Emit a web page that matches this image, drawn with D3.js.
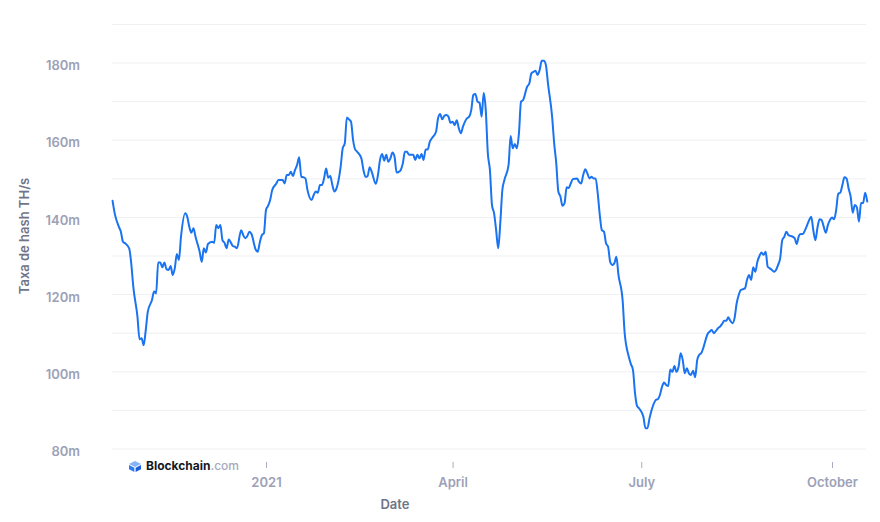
<!DOCTYPE html>
<html>
<head>
<meta charset="utf-8">
<script src="https://cdn.jsdelivr.net/npm/d3@7"></script>
<style>
  html, body { margin: 0; padding: 0; background: #ffffff; }
  svg { display: block; font-family: Inter, "Noto Sans", sans-serif; }
</style>
</head>
<body>
<svg id="chart" width="880" height="522"></svg>
<script>
// Day offsets from 2021-01-01 (UTC) and hash rate values in millions of TH/s
const dayOffsets = [
-74,-73,-71,-70,-69,-68,-66,-65,-64,-62,-61,-60,-59,-58,-57,-55,-54,-53,-52,-51,-50,-49,-48,-47,-46,-45,-44,-43,-42,-41,
-39,-38,-37,-36,-35,-34,-32,-31,-30,-29,-28,-26,-25,-24,-23,-22,-21,-20,-19,-18,-16,-15,-14,-12,-11,-10,-9,-8,-7,-5,
-4,-3,-2,-1,0,1,2,3,5,6,8,9,10,11,12,13,14,15,16,17,18,19,20,22,23,24,25,26,27,28,
29,30,31,32,33,34,36,37,38,39,40,41,42,43,44,46,47,48,49,50,51,53,54,55,56,57,58,59,60,61,
62,63,64,65,66,67,68,69,70,71,72,73,74,75,76,77,78,79,80,82,83,84,85,86,87,88,89,90,91,92,
93,94,95,97,98,99,100,101,102,103,104,105,106,107,108,109,110,111,112,113,114,115,117,118,119,120,121,122,123,124,
126,127,128,129,130,131,132,133,134,135,136,138,139,140,141,142,143,144,145,146,147,148,150,151,152,153,154,155,156,157,
158,159,160,161,162,163,164,165,166,167,168,169,170,172,173,175,176,177,178,179,180,182,183,184,185,186,187,188,189,190,
191,192,193,194,195,196,197,198,199,200,201,202,203,204,205,206,207,208,209,210,211,212,213,214,215,216,217,218,219,220,
221,222,223,224,225,226,227,228,229,231,232,233,234,235,236,237,238,239,240,241,242,243,244,245,246,247,248,249,250,251,
252,254,255,256,257,258,259,260,261,262,263,264,265,266,267,268,269,270,271,272,273,274,275,276,277,278,279,280,281,282,
283,284,285,286,287,288,289,290
];
const hashRate = [
144.3,141.1,137.6,136.3,133.7,133.3,132.0,128.1,122.0,114.3,108.4,108.7,106.9,110.8,115.6,118.6,120.8,120.3,128.3,128.3,127.1,128.3,126.6,126.4,127.4,125.1,126.8,130.5,129.0,135.0,
141.1,140.2,137.6,136.0,137.2,135.0,131.1,128.5,132.0,130.9,133.1,133.7,133.4,138.0,137.2,138.0,134.1,133.4,132.0,134.3,132.6,132.4,132.0,136.7,135.4,134.6,135.2,136.3,135.7,131.7,
131.1,133.5,135.4,135.9,141.9,143.0,144.5,147.1,148.8,149.7,149.7,148.8,151.0,151.0,151.8,150.7,152.3,153.6,155.6,150.5,150.4,150.1,147.1,144.5,145.8,146.7,146.4,148.4,148.4,150.1,
152.7,150.3,150.7,148.4,146.7,147.5,153.1,157.9,159.2,165.9,165.4,164.8,160.1,157.6,157.0,155.3,152.3,150.5,150.7,153.0,151.8,148.7,151.0,154.9,156.4,154.7,156.2,154.4,155.3,156.8,
155.7,151.6,151.8,152.3,154.0,157.0,157.0,156.2,156.2,156.2,154.9,156.2,155.3,156.4,154.9,157.6,157.6,159.6,160.5,162.2,165.7,166.8,165.4,166.3,166.5,166.1,164.5,164.8,163.9,165.2,
163.1,161.8,163.5,165.7,166.1,167.8,171.7,172.0,170.0,169.7,166.1,172.2,167.8,156.6,152.3,143.2,141.1,136.7,132.0,138.5,147.1,149.7,153.6,161.1,157.9,159.0,157.9,161.8,170.0,170.4,
173.9,174.7,177.3,177.7,178.0,176.9,178.2,180.6,180.6,179.5,174.7,166.1,159.2,154.0,146.7,145.4,143.0,143.7,147.8,147.6,148.8,149.9,150.1,149.2,148.8,151.0,152.5,151.4,150.1,150.5,
150.1,150.1,146.2,140.6,136.7,136.3,133.3,132.4,128.5,127.7,128.1,129.8,125.1,118.6,110.0,103.9,102.0,100.5,94.4,91.1,90.5,88.4,85.4,85.4,88.0,90.1,91.7,92.7,92.9,94.0,
96.1,97.2,96.6,96.3,100.6,100.0,101.5,100.0,101.3,104.8,103.1,99.6,100.9,99.6,99.2,100.3,98.6,103.1,104.4,104.9,106.3,108.2,109.8,110.4,110.8,110.0,110.6,111.3,111.7,112.4,
113.2,113.2,114.1,113.2,112.6,113.9,117.7,119.9,121.2,121.6,123.8,125.1,123.8,127.1,125.9,128.5,130.0,130.9,130.3,131.1,127.2,126.8,126.4,125.9,126.4,127.7,129.4,134.1,135.0,136.3,
135.4,135.0,134.6,133.1,135.2,135.7,135.7,136.7,138.0,139.3,140.2,136.6,134.1,137.4,139.5,139.3,137.6,136.0,138.0,139.3,140.0,139.5,141.9,146.1,146.4,148.4,150.4,150.1,147.5,145.4,
141.2,143.2,142.6,138.9,143.7,143.7,146.4,144.1
];
const baseDate = new Date(Date.UTC(2021, 0, 1));
const xTickDates = [new Date(Date.UTC(2021,0,1)), new Date(Date.UTC(2021,3,1)), new Date(Date.UTC(2021,6,1)), new Date(Date.UTC(2021,9,1))];
const xTickLabels = ["2021", "April", "July", "October"];
const yLabelTicks = [80, 100, 120, 140, 160, 180];
const yGridTicks = [80, 90, 100, 110, 120, 130, 140, 150, 160, 170, 180, 190];
const yTitle = "Taxa de hash TH/s";
const xTitle = "Date";

const data = dayOffsets.map((d, i) => ({ date: d3.utcDay.offset(baseDate, d), value: hashRate[i] }));

const svg = d3.select("#chart");
const plotLeft = 112, plotRight = 866;

const x = d3.scaleUtc()
  .domain([xTickDates[0], xTickDates[3]])
  .range([266, 832]);
const y = d3.scaleLinear()
  .domain([80, 190])
  .range([449, 24.4]);

// gridlines
svg.append("g")
  .selectAll("line")
  .data(yGridTicks)
  .join("line")
  .attr("x1", plotLeft).attr("x2", plotRight)
  .attr("y1", d => y(d)).attr("y2", d => y(d))
  .attr("stroke", "#eeeff3")
  .attr("stroke-width", 1);

// y axis labels
const yAxis = svg.append("g")
  .attr("transform", `translate(${plotLeft},0)`)
  .call(d3.axisLeft(y).tickValues(yLabelTicks).tickSize(0).tickPadding(32).tickFormat(d => d + "m"));
yAxis.select(".domain").remove();
yAxis.selectAll("text")
  .attr("dy", "0.52em")
  .attr("fill", "#9ca1b7")
  .style("font-size", "13px")
  .style("font-weight", "600")
  .style("font-family", "Inter, sans-serif");

// x axis
const xAxis = svg.append("g")
  .attr("transform", "translate(0,462)")
  .call(d3.axisBottom(x).tickValues(xTickDates).tickSize(6).tickPadding(10)
    .tickFormat((d, i) => xTickLabels[i]));
xAxis.select(".domain").remove();
xAxis.selectAll("line").attr("stroke", "#a9adbf");
xAxis.selectAll("text")
  .attr("fill", "#9ca1b7")
  .style("font-size", "13px")
  .style("font-weight", "600")
  .style("font-family", "Inter, sans-serif");

// axis titles
svg.append("text")
  .attr("transform", "translate(29,236) rotate(-90)")
  .attr("text-anchor", "middle")
  .attr("fill", "#6f7488")
  .style("font-size", "13px")
  .style("font-weight", "600")
  .text(yTitle);

svg.append("text")
  .attr("x", 395).attr("y", 509)
  .attr("text-anchor", "middle")
  .attr("fill", "#6f7488")
  .style("font-size", "13px")
  .style("font-weight", "600")
  .text(xTitle);

// line
const line = d3.line()
  .x(d => x(d.date))
  .y(d => y(d.value))
  .curve(d3.curveMonotoneX);

svg.append("path")
  .datum(data)
  .attr("fill", "none")
  .attr("stroke", "#1a73f0")
  .attr("stroke-width", 2)
  .attr("stroke-linejoin", "round")
  .attr("stroke-linecap", "round")
  .attr("d", line);

// Blockchain.com logo
const logo = svg.append("g").attr("transform", "translate(129,461)");
logo.append("path").attr("d", "M6,0 L12,3 L6,6 L0,3 Z").attr("fill", "#85b4f8");
logo.append("path").attr("d", "M0,4 L5.4,6.8 L5.4,11 L0,8.2 Z").attr("fill", "#2f7cf0");
logo.append("path").attr("d", "M12,4 L6.6,6.8 L6.6,11 L12,8.2 Z").attr("fill", "#1c5fd6");
const lt = svg.append("text")
  .attr("x", 146).attr("y", 470)
  .style("font-size", "12px");
lt.append("tspan").attr("fill", "#16181f").style("font-weight", "700").text("Blockchain");
lt.append("tspan").attr("fill", "#a6aabd").style("font-weight", "500").text(".com");
</script>
</body>
</html>
